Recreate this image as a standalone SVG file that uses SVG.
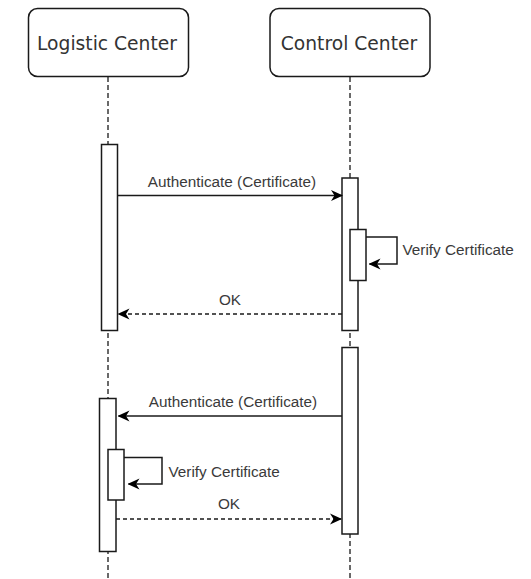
<svg xmlns="http://www.w3.org/2000/svg" width="531" height="579" viewBox="0 0 531 579">
  <style>
    .actor { fill: #ffffff; stroke: #1a1a1a; stroke-width: 1.5; }
    .actor-label { font-family: "DejaVu Sans", sans-serif; font-size: 18.7px; fill: #333333; text-anchor: middle; }
    .lifeline { stroke: #1a1a1a; stroke-width: 1.3; stroke-dasharray: 5 3; fill: none; }
    .activation { fill: #ffffff; stroke: #1a1a1a; stroke-width: 1.5; }
    .msg { stroke: #1a1a1a; stroke-width: 1.5; fill: none; marker-end: url(#arrow); }
    .reply { stroke-dasharray: 4 3; }
    .msg-label { font-family: "Liberation Sans", Arial, sans-serif; font-size: 15.3px; fill: #3a3a3a; }
    .center { text-anchor: middle; }
  </style>
  <defs>
    <marker id="arrow" viewBox="0 0 12 12" refX="11" refY="6" markerWidth="12" markerHeight="12" markerUnits="userSpaceOnUse" orient="auto">
      <path d="M0,0.5 L12,6 L0,11.5 L3.5,6 Z" fill="#000000"/>
    </marker>
  </defs>

  <rect width="531" height="579" fill="#ffffff"/>

  <!-- lifelines -->
  <g id="lifelines">
    <line class="lifeline" x1="108" y1="77" x2="108" y2="579"/>
    <line class="lifeline" x1="350" y1="77" x2="350" y2="579"/>
  </g>

  <!-- participants -->
  <g id="logistic-center">
    <rect class="actor" x="28.5" y="8.5" width="160" height="68" rx="9"/>
    <text class="actor-label" x="107" y="50">Logistic Center</text>
  </g>
  <g id="control-center">
    <rect class="actor" x="270" y="8.5" width="160" height="68" rx="9"/>
    <text class="actor-label" x="349" y="50">Control Center</text>
  </g>

  <!-- activation bars -->
  <g id="lc-activation-1"><rect class="activation" x="101.5" y="144.5" width="16" height="186"/></g>
  <g id="cc-activation-1"><rect class="activation" x="342" y="178" width="16" height="152.5"/></g>
  <g id="cc-verify-activation"><rect class="activation" x="350" y="229.5" width="16" height="51"/></g>
  <g id="cc-activation-2"><rect class="activation" x="342" y="347.5" width="16" height="186.5"/></g>
  <g id="lc-activation-2"><rect class="activation" x="99.5" y="398.5" width="16.5" height="153"/></g>
  <g id="lc-verify-activation"><rect class="activation" x="108" y="449.5" width="16" height="50.5"/></g>

  <!-- messages -->
  <g id="connectors">
    <path class="msg" d="M117.5,195.5 H342"/>
    <path class="msg" d="M366,237 H397 V264 H369.5"/>
    <path class="msg reply" d="M342,314 H118.5"/>
    <path class="msg" d="M342,416 H118.5"/>
    <path class="msg" d="M124,457.5 H162 V484 H128.5"/>
    <path class="msg reply" d="M116,519 H341"/>
  </g>

  <!-- message labels -->
  <g id="labels">
    <text class="msg-label center" x="232" y="186.5">Authenticate (Certificate)</text>
    <text class="msg-label" x="402.5" y="255">Verify Certificate</text>
    <text class="msg-label center" x="230" y="304.5">OK</text>
    <text class="msg-label center" x="233" y="406.5">Authenticate (Certificate)</text>
    <text class="msg-label" x="168.5" y="477">Verify Certificate</text>
    <text class="msg-label center" x="229" y="509">OK</text>
  </g>
</svg>
